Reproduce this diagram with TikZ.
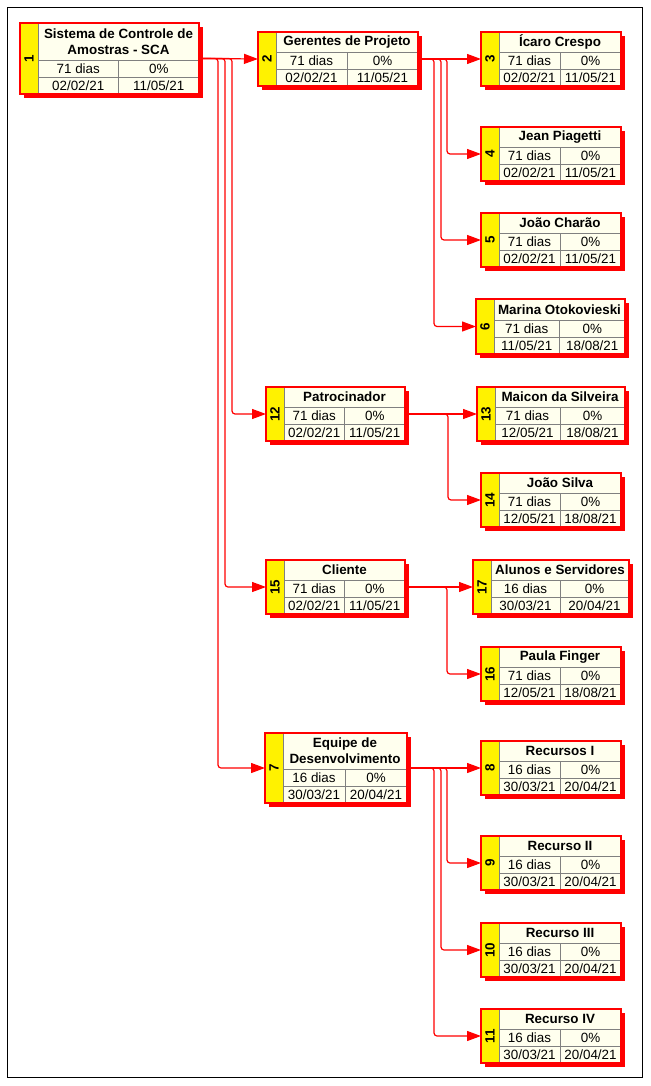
\documentclass[tikz,border=0pt]{standalone}
\usepackage{fontspec}
\setmainfont{Liberation Sans}
\usepackage{xcolor}
\usepackage{tikz}
\usetikzlibrary{arrows.meta}
\usetikzlibrary{calc}
\usetikzlibrary{shadows}

\definecolor{creme}{RGB}{255,255,238}
\definecolor{cinza}{RGB}{128,128,128}

% caixa de tarefa: numero, posicao, largura, altura, nome, duracao, percentual, inicio, fim
\newcommand{\tarefa}[9]{%
  \node[tarefa, minimum width=#3, minimum height=#4] (t#1) at (#2) {};
  \coordinate (ce) at ([xshift=18pt]t#1.south west);
  \coordinate (cm) at ($(ce)!.5!(t#1.south east)$);
  \coordinate (c1) at ($(ce)!.5!(cm)$);
  \coordinate (c2) at ($(cm)!.5!(t#1.south east)$);
  \fill[yellow] (t#1.north west) rectangle (ce);
  \draw[linha] (ce) -- ([xshift=18pt]t#1.north west);
  \draw[linha] ([yshift=17pt]ce) -- ([yshift=17pt]t#1.south east);
  \draw[linha] ([yshift=34pt]ce) -- ([yshift=34pt]t#1.south east);
  \draw[linha] (cm) -- ([yshift=34pt]cm);
  \draw[borda] (t#1.north west) rectangle (t#1.south east);
  \node[numero] (n#1) at ($(t#1.north west)!.5!(ce)$) {#1};
  \node[titulo] (tit#1) at ($([yshift=34pt]ce)!.5!(t#1.north east)$) {#5};
  \node[celula] (dur#1) at ([yshift=25.5pt]c1) {#6};
  \node[celula] (pct#1) at ([yshift=25.5pt]c2) {#7};
  \node[celula] (ini#1) at ([yshift=8.5pt]c1) {#8};
  \node[celula] (fim#1) at ([yshift=8.5pt]c2) {#9};
}

\begin{document}
\begin{tikzpicture}[x=1pt, y=-1pt,
    tarefa/.style={rectangle, fill=creme, inner sep=0pt, outer sep=0pt, anchor=north west,
      drop shadow={shadow xshift=4pt, shadow yshift=-4pt, fill=red, opacity=1}},
    borda/.style={draw=red, line width=1.3pt},
    linha/.style={draw=cinza, line width=0.8pt},
    numero/.style={font=\fontsize{13.4}{14}\selectfont\bfseries, rotate=90, inner sep=0pt},
    titulo/.style={font=\fontsize{13.4}{16}\selectfont\bfseries, align=center, inner sep=0pt},
    celula/.style={font=\fontsize{13.4}{14}\selectfont, inner sep=0pt},
    seta/.style={draw=red, line width=1.2pt, rounded corners=3pt, -{Triangle[length=14pt, width=10pt]}}]

        \useasboundingbox (0,0) rectangle (650,1086);
        \draw[line width=0.8pt] (7,7) rectangle (642,1077);

        \tarefa{1}{20,23}{179}{71}{Sistema de Controle de\\Amostras - SCA}{71 dias}{0\%}{02/02/21}{11/05/21}
        \tarefa{2}{258,32}{160}{54}{Gerentes de Projeto}{71 dias}{0\%}{02/02/21}{11/05/21}
        \tarefa{3}{481,32}{140}{54}{Ícaro Crespo}{71 dias}{0\%}{02/02/21}{11/05/21}
        \tarefa{4}{481,127}{140}{54}{Jean Piagetti}{71 dias}{0\%}{02/02/21}{11/05/21}
        \tarefa{5}{481,213}{140}{54}{João Charão}{71 dias}{0\%}{02/02/21}{11/05/21}
        \tarefa{6}{476,299}{149}{55}{Marina Otokovieski}{71 dias}{0\%}{11/05/21}{18/08/21}

        \tarefa{12}{266,387}{139}{54}{Patrocinador}{71 dias}{0\%}{02/02/21}{11/05/21}
        \tarefa{13}{477,387}{148}{54}{Maicon da Silveira}{71 dias}{0\%}{12/05/21}{18/08/21}
        \tarefa{14}{481,473}{140}{54}{João Silva}{71 dias}{0\%}{12/05/21}{18/08/21}

        \tarefa{15}{266,560}{139}{54}{Cliente}{71 dias}{0\%}{02/02/21}{11/05/21}
        \tarefa{17}{473,560}{156}{54}{Alunos e Servidores}{16 dias}{0\%}{30/03/21}{20/04/21}
        \tarefa{16}{481,647}{140}{54}{Paula Finger}{71 dias}{0\%}{12/05/21}{18/08/21}

        \tarefa{7}{265,733}{142}{70}{Equipe de\\Desenvolvimento}{16 dias}{0\%}{30/03/21}{20/04/21}
        \tarefa{8}{481,741}{140}{54}{Recursos I}{16 dias}{0\%}{30/03/21}{20/04/21}
        \tarefa{9}{481,836}{140}{54}{Recurso II}{16 dias}{0\%}{30/03/21}{20/04/21}
        \tarefa{10}{481,923}{140}{54}{Recurso III}{16 dias}{0\%}{30/03/21}{20/04/21}
        \tarefa{11}{481,1009}{140}{54}{Recurso IV}{16 dias}{0\%}{30/03/21}{20/04/21}

        \draw[seta] (t1.east) -- (t2.west);
        \draw[seta] (t1.east) -- ++(33,0) |- (t12.west);
        \draw[seta] (t1.east) -- ++(26,0) |- (t15.west);
        \draw[seta] (t1.east) -- ++(19,0) |- (t7.west);

        \draw[seta] (t2.east) -- (t3.west);
        \draw[seta] (t2.east) -- ++(29,0) |- (t4.west);
        \draw[seta] (t2.east) -- ++(23,0) |- (t5.west);
        \draw[seta] (t2.east) -- ++(16,0) |- (t6.west);

        \draw[seta] (t12.east) -- (t13.west);
        \draw[seta] (t12.east) -- ++(43,0) |- (t14.west);

        \draw[seta] (t15.east) -- (t17.west);
        \draw[seta] (t15.east) -- ++(42,0) |- (t16.west);

        \draw[seta] (t7.east) -- (t8.west);
        \draw[seta] (t7.east) -- ++(40,0) |- (t9.west);
        \draw[seta] (t7.east) -- ++(34,0) |- (t10.west);
        \draw[seta] (t7.east) -- ++(27,0) |- (t11.west);

    \end{tikzpicture}
\end{document}
